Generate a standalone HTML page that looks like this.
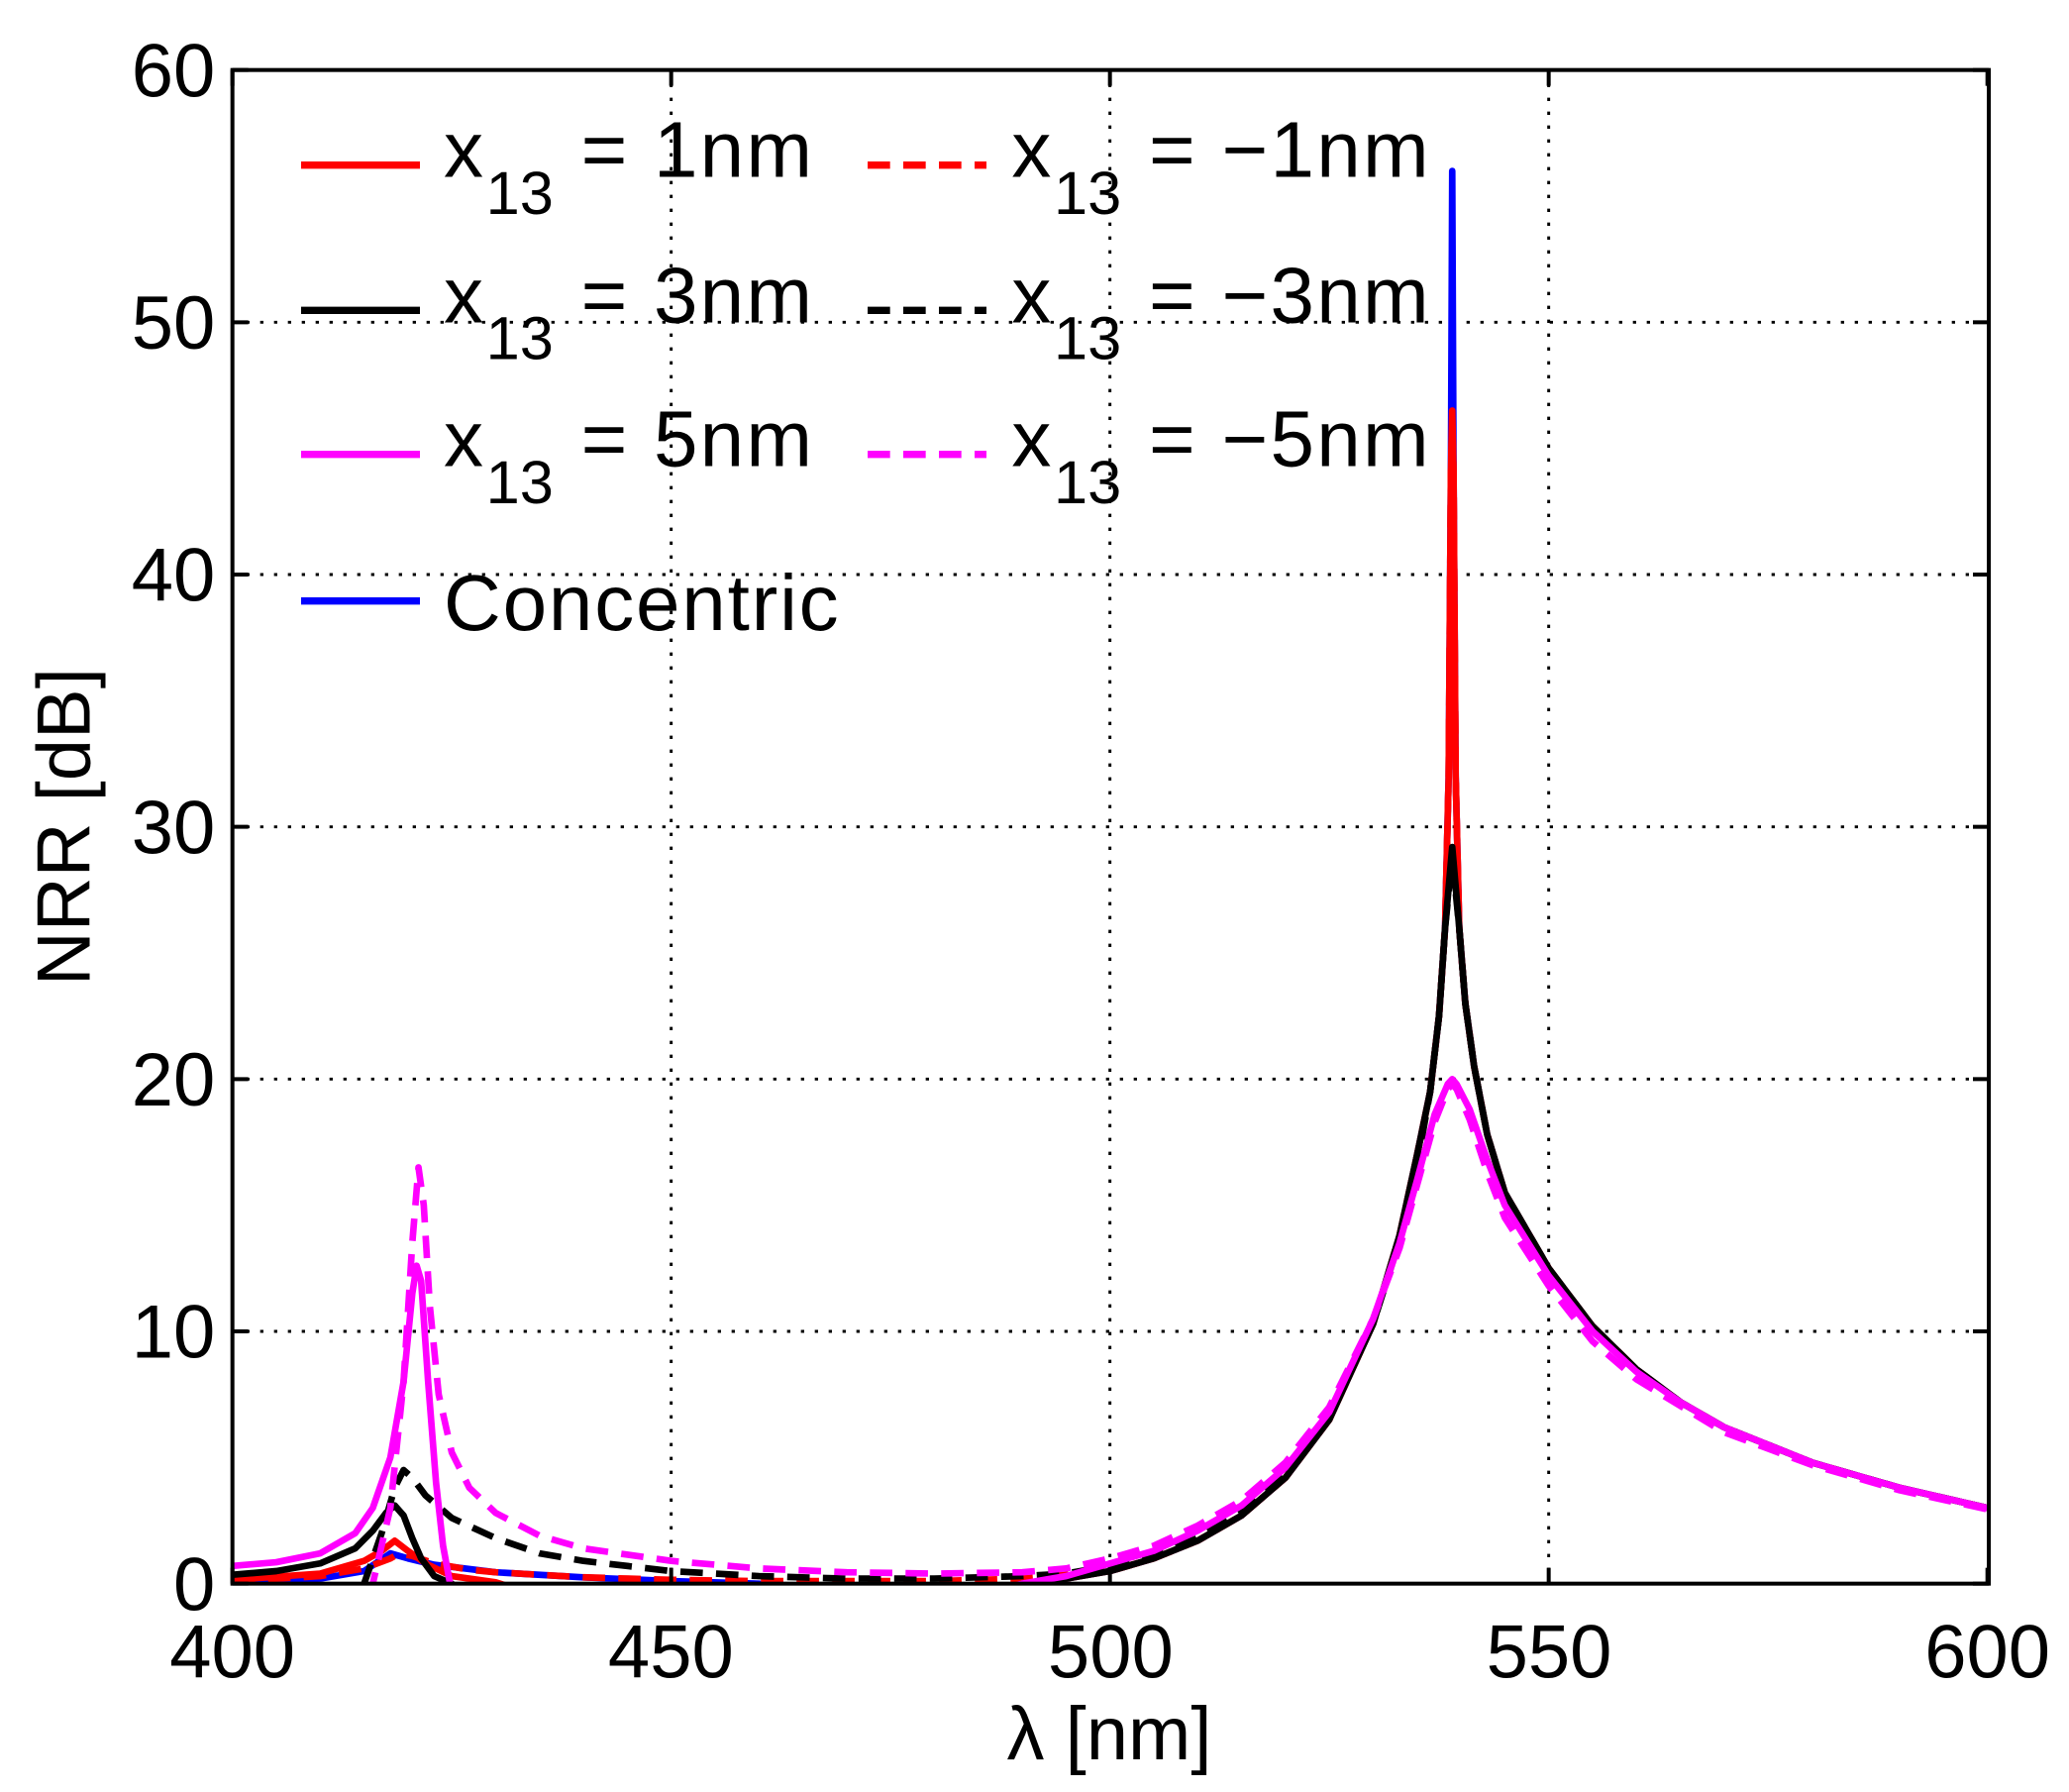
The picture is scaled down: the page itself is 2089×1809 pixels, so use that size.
<!DOCTYPE html>
<html><head><meta charset="utf-8"><style>
html,body{margin:0;padding:0;background:#fff;}
svg{display:block;}
text{font-family:"Liberation Sans",Arial,sans-serif;fill:#000;}
</style></head><body>
<svg id="s" width="2089" height="1809" viewBox="0 0 1566.75 1356.75" xmlns="http://www.w3.org/2000/svg">
<defs><clipPath id="c"><rect x="176" y="53" width="1330" height="1146"/></clipPath></defs>
<rect x="0" y="0" width="1566.75" height="1356.75" fill="#fff"/>
<g id="grid" stroke="#000" stroke-width="2.2" stroke-dasharray="2.5 8" fill="none"></g>
<g id="curves" clip-path="url(#c)" fill="none" stroke-width="5" stroke-linejoin="round" stroke-linecap="butt"></g>
<rect x="176" y="53" width="1330" height="1146" fill="none" stroke="#000" stroke-width="3"/>
<g id="ticks" stroke="#000" stroke-width="3"></g>
<g font-size="57" text-anchor="end">
<text x="163" y="1219">0</text><text x="163" y="1028">10</text><text x="163" y="837">20</text>
<text x="163" y="646">30</text><text x="163" y="455">40</text><text x="163" y="264">50</text><text x="163" y="73">60</text>
</g>
<g font-size="57" text-anchor="middle">
<text x="176" y="1270">400</text><text x="508" y="1270">450</text><text x="841" y="1270">500</text>
<text x="1173" y="1270">550</text><text x="1505" y="1270">600</text>
<text x="840" y="1332">λ [nm]</text>
<text transform="translate(68,626) rotate(-90)">NRR [dB]</text>
</g>
<g stroke-width="5.5" fill="none">
<line x1="228" y1="125" x2="318" y2="125" stroke="#f00"/>
<line x1="228" y1="235" x2="318" y2="235" stroke="#000"/>
<line x1="228" y1="344" x2="318" y2="344" stroke="#f0f"/>
<line x1="228" y1="455" x2="318" y2="455" stroke="#00f"/>
<line x1="657" y1="125" x2="747" y2="125" stroke="#f00" stroke-dasharray="17 10"/>
<line x1="657" y1="235" x2="747" y2="235" stroke="#000" stroke-dasharray="17 10"/>
<line x1="657" y1="344" x2="747" y2="344" stroke="#f0f" stroke-dasharray="17 10"/>
</g>
<g font-size="60">
<text x="336" y="134">x</text><text x="368" y="162" font-size="46">13</text><text x="440" y="134" textLength="175">= 1nm</text>
<text x="336" y="244">x</text><text x="368" y="272" font-size="46">13</text><text x="440" y="244" textLength="175">= 3nm</text>
<text x="336" y="353">x</text><text x="368" y="381" font-size="46">13</text><text x="440" y="353" textLength="175">= 5nm</text>
<text x="336" y="477" textLength="299">Concentric</text>
<text x="766" y="134">x</text><text x="798" y="162" font-size="46">13</text><text x="870" y="134" textLength="212">= −1nm</text>
<text x="766" y="244">x</text><text x="798" y="272" font-size="46">13</text><text x="870" y="244" textLength="212">= −3nm</text>
<text x="766" y="353">x</text><text x="798" y="381" font-size="46">13</text><text x="870" y="353" textLength="212">= −5nm</text>
</g>
<script>
var NS="http://www.w3.org/2000/svg";
function X(l){return 176+(l-400)*6.645;}
function Y(v){return 1199-v*19.1;}
function el(p,tag,a){var e=document.createElementNS(NS,tag);for(var k in a)e.setAttribute(k,a[k]);p.appendChild(e);return e;}
var g=document.getElementById('grid'),t=document.getElementById('ticks');
[450,500,550].forEach(function(l){el(g,'line',{x1:X(l),y1:53,x2:X(l),y2:1199});});
[10,20,30,40,50].forEach(function(v){el(g,'line',{x1:176,y1:Y(v),x2:1506,y2:Y(v)});});
[400,450,500,550,600].forEach(function(l){el(t,'line',{x1:X(l),y1:1199,x2:X(l),y2:1187});el(t,'line',{x1:X(l),y1:53,x2:X(l),y2:65});});
[0,10,20,30,40,50,60].forEach(function(v){el(t,'line',{x1:176,y1:Y(v),x2:188,y2:Y(v)});el(t,'line',{x1:1506,y1:Y(v),x2:1494,y2:Y(v)});});
var tail=[[545,15.5],[550,12.5],[555,10.2],[560,8.5],[565,7.2],[570,6.2],[580,4.8],[590,3.8],[600,3.0]];
var mainB=[[490,0],[495,0.2],[500,0.5],[505,1],[510,1.7],[515,2.7],[520,4.2],[525,6.5],[530,10.3],[533,13.8],[535,17]];
function peak(h){
 if(h<25)return [];
 var r=[[536.5,19.5],[537.5,22.5],[538.2,26]];
 if(h>32){r.push([538.6,32]);}
 if(h>45){r.push([538.85,44]);}
 r.push([539,h]);
 if(h>45){r.push([539.15,44]);}
 if(h>32){r.push([539.4,32]);}
 r.push([539.8,26],[540.5,23],[541.5,20.5],[543,17.8]);
 return r;}
var magMain=[[485,-0.5],[490,0],[495,0.3],[500,0.8],[505,1.3],[510,2.1],[515,3.1],[520,4.6],[525,6.8],[530,10.5],[533,13.5],[535,16],[537,18.6],[538.5,19.8],[539,20],[539.5,19.8],[541,18.8],[543,16.8],[545,15],[550,12.2],[555,10],[560,8.4],[565,7.2],[570,6.2],[580,4.8],[590,3.8],[600,3.0]];
var magDMain=[[495,0.6],[500,1.0],[505,1.5],[510,2.3],[515,3.3],[520,4.8],[525,7],[530,10.5],[533,13.3],[535,15.8],[537,18.3],[538.5,19.6],[539,19.8],[539.5,19.6],[541,18.4],[543,16.3],[545,14.5],[550,11.8],[555,9.6],[560,8.1],[570,6],[580,4.7],[590,3.7],[600,2.95]];
var S={
blue:{c:'#00f',p:[[400,0.05],[410,0.2],[415,0.5],[418,1.2],[420,1],[423,0.75],[430,0.45],[440,0.25],[450,0.1],[460,0],[470,-0.5],[485,-0.5]].concat(mainB,peak(56),tail)},
red:{c:'#f00',p:[[400,0.15],[410,0.4],[415,0.9],[417,1.3],[418.5,1.7],[420,1.3],[422,0.8],[425,0.3],[430,0.05],[435,-0.5],[480,-0.5]].concat(mainB,peak(46.5),tail)},
redd:{c:'#f00',d:1,p:[[400,0.1],[410,0.3],[415,0.6],[418,1],[419,1.2],[420.5,1.1],[423,0.8],[427,0.55],[430,0.45],[440,0.25],[450,0.15],[460,0.1],[480,0.1],[490,0.2],[500,0.5],[505,1],[510,1.7],[515,2.7],[520,4.2],[525,6.5],[530,10.3],[533,13.8],[535,17]].concat(peak(46),tail)},
blk:{c:'#000',p:[[400,0.35],[405,0.5],[410,0.8],[414,1.4],[416,2.1],[417.5,2.8],[418.5,3.1],[419.5,2.7],[420.5,1.8],[421.5,1],[423,0.3],[425,0],[426,-1],[480,-1],[488,-0.3]].concat(mainB,peak(29.2),tail)},
blkd:{c:'#000',d:1,p:[[400,-1],[413,-1],[415,0],[417,2],[418.5,3.8],[419.5,4.5],[420.5,4.2],[422,3.5],[425,2.6],[430,1.8],[435,1.2],[440,0.9],[450,0.5],[460,0.3],[470,0.2],[480,0.2],[490,0.3],[495,0.4],[500,0.7],[505,1.1],[510,1.8],[515,2.8],[520,4.3],[525,6.6],[530,10.3],[533,13.6],[535,16.6]].concat(peak(28.8),tail)},
mag:{c:'#f0f',p:[[400,0.7],[405,0.85],[410,1.2],[414,2],[416,3],[418,5],[419.5,8],[420.5,11.5],[421,12.6],[421.5,12],[422.3,8],[423.2,4],[424,1.5],[424.8,0],[425.5,-1],[430,-2],[480,-2]].concat(magMain)},
magd:{c:'#f0f',d:1,p:[[400,-1],[414,-1],[416,0],[418,3],[419.5,8],[420.5,13.5],[421.2,16.5],[421.8,15],[422.5,11],[423.5,7.5],[425,5.2],[427,3.8],[430,2.8],[435,1.9],[440,1.4],[450,0.9],[460,0.6],[470,0.45],[480,0.4],[490,0.45]].concat(magDMain)}
};
var cg=document.getElementById('curves');
['blue','red','redd','blk','blkd','mag','magd'].forEach(function(k){
 var s=S[k];var d=s.p.map(function(q,i){return (i?'L':'M')+X(q[0]).toFixed(1)+','+Y(q[1]).toFixed(1);}).join(' ');
 var a={d:d,stroke:s.c};if(s.d)a['stroke-dasharray']='17 10';el(cg,'path',a);
});
</script>
</svg>
</body></html>
